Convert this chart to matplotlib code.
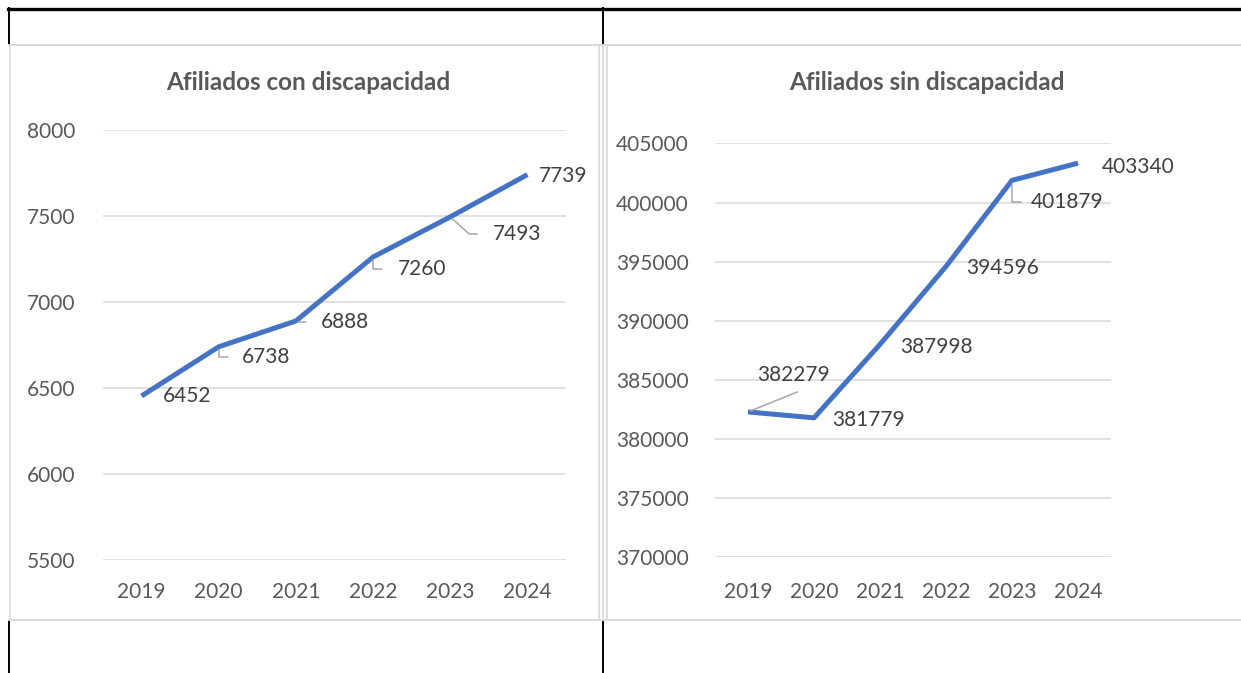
import matplotlib

matplotlib.use("Agg")
import matplotlib.pyplot as plt  # noqa: E402

# Datos
years = ["2019", "2020", "2021", "2022", "2023", "2024"]
con_discapacidad = [6452, 6738, 6888, 7260, 7493, 7739]
sin_discapacidad = [382279, 381779, 387998, 394596, 401879, 403340]

W, H = 1241, 673
BLUE = "#4472C4"
GRID = "#D9D9D9"
TICK = "#595959"
LABEL = "#404040"
LEADER = "#A6A6A6"

plt.rcParams["font.family"] = ["Lato", "DejaVu Sans"]

fig = plt.figure(figsize=(W / 100, H / 100), dpi=100)


def px_axes(x0, x1, y0, y1):
    # rectangulo en pixeles de la imagen (y hacia abajo)
    return fig.add_axes([x0 / W, 1 - y1 / H, (x1 - x0) / W, (y1 - y0) / H])


# bordes de la tabla de Word
frame = px_axes(0, W, 0, H)
frame.set_xlim(0, W)
frame.set_ylim(H, 0)
frame.axis("off")
frame.plot([8, W], [8.5, 8.5], color="black", lw=2.4)
for x in (8.5, 603):
    frame.plot([x, x], [8, 44], color="black", lw=1.4)
    frame.plot([x, x], [621, H], color="black", lw=1.4)
for y in (45, 620):
    frame.plot([9, W], [y, y], color=GRID, lw=1.4)
for x in (10, 599, 603, 607):
    frame.plot([x, x], [45, 620], color=GRID, lw=1.2)


def draw_chart(ax, values, ylim, yticks, xpad, ypad, labels):
    x = range(len(years))
    ax.set_facecolor("none")
    ax.plot(x, values, color=BLUE, lw=3.6, solid_joinstyle="round",
            solid_capstyle="butt", zorder=3)
    ax.set_xlim(-0.5, len(years) - 0.5)
    ax.set_ylim(*ylim)
    ax.set_yticks(yticks)
    ax.set_xticks(list(x))
    ax.set_xticklabels(years)
    ax.grid(axis="y", color=GRID, lw=1.1)
    ax.set_axisbelow(True)
    for s in ax.spines.values():
        s.set_visible(False)
    ax.tick_params(axis="both", length=0, labelsize=15, labelcolor=TICK)
    ax.tick_params(axis="x", pad=xpad)
    ax.tick_params(axis="y", pad=ypad)
    for i, (v, lab) in enumerate(zip(values, labels)):
        dx, dy, leader = lab
        props = None
        if leader is not None:
            props = dict(arrowstyle="-", color=LEADER, lw=1.1,
                         shrinkA=leader[2], shrinkB=2,
                         relpos=leader[1], connectionstyle=leader[0])
        ax.annotate(str(v), (i, v), xytext=(dx, -dy), textcoords="offset pixels",
                    ha="center", va="center", fontsize=15, color=LABEL,
                    arrowprops=props, zorder=4)


# (dx, dy en pixeles, lider)
elbow = "angle,angleA=0,angleB=90,rad=0"
labels_con = [
    (46, 0, None),
    (47, 10.5, (elbow, (0, 0.5), 8)),
    (49.5, 1.5, (elbow, (0, 0.5), 9)),
    (48.7, 11.7, (elbow, (0, 0.5), 9)),
    (66.5, 17, ("angle,angleA=0,angleB=-42,rad=0", (0, 0.5), 9)),
    (35.5, 1.5, None),
]
labels_sin = [
    (45, -37, ("arc3,rad=0", (0.56, -0.35), 0)),
    (54, 2, None),
    (56, 2.6, None),
    (57, 1.6, None),
    (55.5, 22, (elbow, (0, 0.5), 5)),
    (59.7, 3.4, None),
]

ax1 = px_axes(103, 566, 129.7, 559.7)
draw_chart(ax1, con_discapacidad, (5500, 8000), range(5500, 8001, 500),
           16, 20, labels_con)

ax2 = px_axes(715, 1111, 143.5, 557)
draw_chart(ax2, sin_discapacidad, (370000, 405000), range(370000, 405001, 5000),
           18, 19, labels_sin)

fig.text(308.5 / W, 1 - 83 / H, "Afiliados con discapacidad", ha="center",
         va="center", fontsize=17.5, fontweight="bold", color=TICK)
fig.text(927 / W, 1 - 83 / H, "Afiliados sin discapacidad", ha="center",
         va="center", fontsize=17.5, fontweight="bold", color=TICK)

fig.savefig("out.png", dpi=100)
plt.close(fig)
